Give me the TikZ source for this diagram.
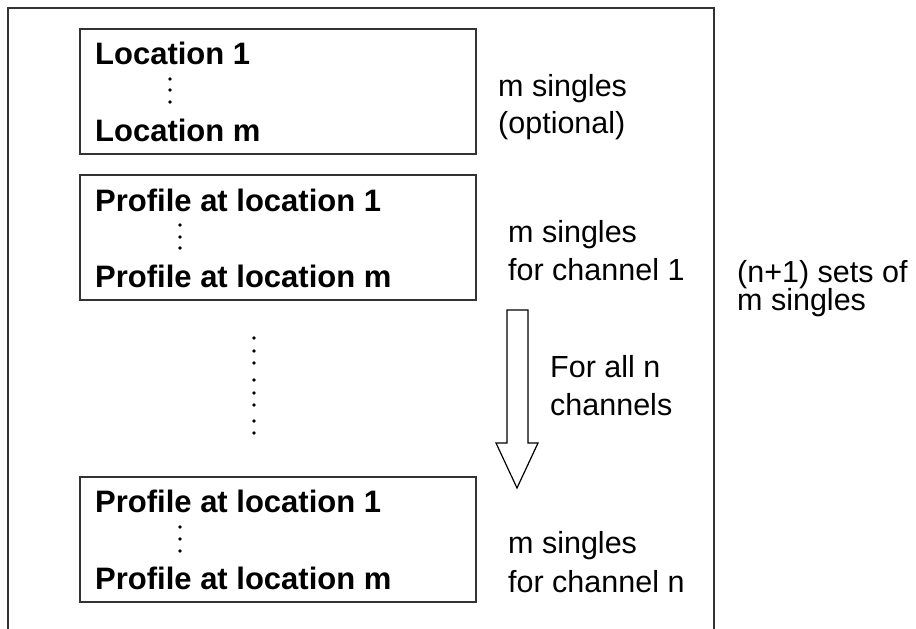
\documentclass[tikz,border=0pt]{standalone}
\usepackage{fontspec}
\setmainfont{Liberation Sans}
\begin{document}
\begin{tikzpicture}[x=1pt,y=-1pt,
  frame/.style={draw=black!80,line width=1.5pt},
  setbox/.style={draw=black!80,line width=1.5pt},
  boldtxt/.style={anchor=base west,inner sep=0pt,font=\fontsize{31}{36}\selectfont\bfseries},
  plaintxt/.style={anchor=base west,inner sep=0pt,font=\fontsize{30.5}{36}\selectfont},
  dotmark/.style={fill=black},
  blockarrow/.style={draw=black,line width=1.2pt,fill=white}]
\useasboundingbox (0,0) rectangle (916,629);
% outer frame (open at the bottom)
\draw[frame] (8,629) -- (8,8) -- (714,8) -- (714,629);
% boxes
\draw[setbox] (80,29) rectangle (476,154);
\draw[setbox] (80,175) rectangle (476,300);
\draw[setbox] (80,477) rectangle (476,602);
% box 1
\node[boldtxt] (l1) at (95,64) {Location 1};
\node[boldtxt] (lm) at (95,141) {Location m};
\foreach \yy in {79,90,102} \fill[dotmark] (170,\yy) circle (1.8);
% box 2
\node[boldtxt] (p1) at (95,211) {Profile at location 1};
\node[boldtxt] (pm) at (95,287) {Profile at location m};
\foreach \yy in {225,237,248} \fill[dotmark] (180,\yy) circle (1.8);
% box 3
\node[boldtxt] (q1) at (95,512) {Profile at location 1};
\node[boldtxt] (qm) at (95,589) {Profile at location m};
\foreach \yy in {527,539,551} \fill[dotmark] (180,\yy) circle (1.8);
% middle vertical dots
\foreach \yy in {338,351,363,380,393,405,421,433} \fill[dotmark] (254,\yy) circle (1.8);
% right labels
\node[plaintxt] (a1) at (498,96) {m singles};
\node[plaintxt] (a2) at (498,133) {(optional)};
\node[plaintxt] (b1) at (508,242) {m singles};
\node[plaintxt] (b2) at (508,280) {for channel 1};
\node[plaintxt] (c1) at (508,553) {m singles};
\node[plaintxt] (c2) at (508,592) {for channel n};
\node[plaintxt] (d1) at (550,377) {For all n};
\node[plaintxt] (d2) at (550,415) {channels};
\node[plaintxt] (e1) at (737,282) {(n+1) sets of};
\node[plaintxt] (e2) at (737,310) {m singles};
% block arrow
\draw[blockarrow] (507,310) -- (528,310) -- (528,443) -- (538,443) -- (517,488) -- (496,443) -- (507,443) -- cycle;
\end{tikzpicture}
\end{document}
